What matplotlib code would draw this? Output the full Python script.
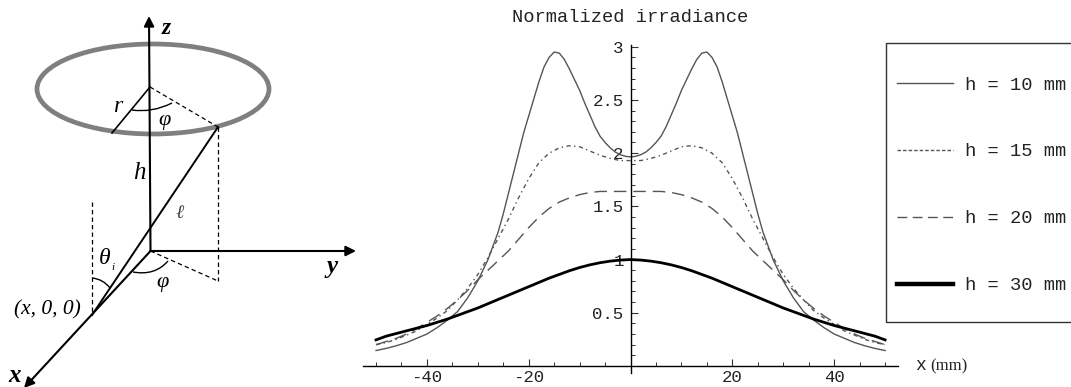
import matplotlib
matplotlib.use('Agg')
import matplotlib.pyplot as plt
from matplotlib.lines import Line2D
from matplotlib.patches import Ellipse, FancyArrowPatch, PathPatch, Rectangle
from matplotlib.path import Path

# irradiance curves
x_mm = [-50, -48, -46, -44, -42, -40, -38, -36, -34, -32, -30, -28, -26, -24, -22, -20, -18, -16, -14, -12, -10, -8, -6, -4, -2, 0,
        2, 4, 6, 8, 10, 12, 14, 16, 18, 20, 22, 24, 26, 28, 30, 32, 34, 36, 38, 40, 42, 44, 46, 48, 50]
x_h10 = [-50, -48, -46, -44, -42, -40, -38, -36, -34, -32, -30, -28, -27, -26, -25, -24, -23, -22, -21, -20, -19, -18, -17, -16, -15, -14, -13, -12,
         -11, -10, -9, -8, -7, -6, -5, -4, -3, -2, -1, 0, 1, 2, 3, 4, 5, 6, 7, 8, 9, 10, 11, 12, 13, 14, 15, 16, 17, 18, 19, 20, 21, 22, 23, 24,
         25, 26, 27, 28, 30, 32, 34, 36, 38, 40, 42, 44, 46, 48, 50]
h10 = [.145, .165, .19, .22, .26, .30, .36, .43, .51, .64, .80, 1.00, 1.13, 1.26, 1.43, 1.62, 1.81, 2.00, 2.19, 2.35, 2.51, 2.67, 2.81, 2.90, 2.95, 2.94, 2.88, 2.79,
       2.69, 2.59, 2.47, 2.36, 2.25, 2.16, 2.10, 2.05, 2.01, 1.985, 1.97, 1.965, 1.97, 1.985, 2.01, 2.05, 2.10, 2.16, 2.25, 2.36, 2.47, 2.59, 2.69, 2.79, 2.88, 2.94, 2.95, 2.90, 2.81, 2.67, 2.51, 2.35, 2.19, 2.00, 1.81, 1.62,
       1.43, 1.26, 1.13, 1.00, .80, .64, .51, .43, .36, .30, .26, .22, .19, .165, .145]
h15 = [.20, .22, .25, .29, .33, .39, .45, .52, .62, .73, .86, 1.02, 1.20, 1.38, 1.58, 1.76, 1.91, 2.00, 2.05, 2.07, 2.06, 2.02, 1.98, 1.95, 1.93, 1.93,
       1.93, 1.95, 1.98, 2.02, 2.06, 2.07, 2.05, 2.00, 1.91, 1.76, 1.58, 1.38, 1.20, 1.02, .86, .73, .62, .52, .45, .39, .33, .29, .25, .22, .20]
h20 = [.20, .23, .26, .30, .35, .41, .47, .54, .62, .71, .81, .90, .99, 1.08, 1.19, 1.30, 1.40, 1.48, 1.54, 1.58, 1.61, 1.63, 1.64, 1.64, 1.64, 1.64,
       1.64, 1.64, 1.64, 1.63, 1.61, 1.58, 1.54, 1.48, 1.40, 1.30, 1.19, 1.08, .99, .90, .81, .71, .62, .54, .47, .41, .35, .30, .26, .23, .20]
h30 = [.245, .28, .305, .33, .355, .38, .41, .44, .475, .51, .545, .585, .625, .665, .705, .745, .785, .825, .86, .895, .925, .95, .97, .985, .995, 1.0,
       .995, .985, .97, .95, .925, .895, .86, .825, .785, .745, .705, .665, .625, .585, .545, .51, .475, .44, .41, .38, .355, .33, .305, .28, .245]
series_labels = ['h = 10 mm', 'h = 15 mm', 'h = 20 mm', 'h = 30 mm']

xticks = [-40, -20, 20, 40]
xtick_labels = ['-40', '-20', '20', '40']
yticks = [0.5, 1, 1.5, 2, 2.5, 3]
ytick_labels = ['0.5', '1', '1.5', '2', '2.5', '3']

W, H = 1071, 387
MONO = 'Liberation Mono'
SERIF = 'Liberation Serif'
GREY = '#555555'

fig = plt.figure(figsize=(W / 100, H / 100), dpi=100)

# left part: the geometry sketch, in pixels of the picture
sk = fig.add_axes([0, 0, 1, 1])
sk.set_xlim(0, W)
sk.set_ylim(H, 0)
sk.axis('off')


def arrow(a, b):
    sk.add_patch(FancyArrowPatch(a, b, arrowstyle='-|>', mutation_scale=15, lw=1.5, color='black', shrinkA=0, shrinkB=0))


def line(a, b, **kw):
    kw.setdefault('color', 'black')
    kw.setdefault('lw', 1.2)
    sk.plot([a[0], b[0]], [a[1], b[1]], **kw)


def curve(a, c, b):
    sk.add_patch(PathPatch(Path([a, c, b], [Path.MOVETO, Path.CURVE3, Path.CURVE3]), fc='none', ec='black', lw=1.0))


def label(x, y, s, size=15, **kw):
    sk.text(x, y, s, family=SERIF, style='italic', size=size, ha='center', va='center', **kw)


origin = (150.5, 251)
centre = (150, 87)
ring_pt = (218, 127)
foot = (92, 315)
floor_pt = (218, 281)

sk.add_patch(Ellipse((153, 89), 232, 90, fc='none', ec='#7f7f7f', lw=3.4))
arrow(origin, (149, 16))
arrow(origin, (356, 251))
arrow(origin, (24, 388))
line(centre, (112, 133))
line(ring_pt, foot, lw=1.4)
dash = dict(ls=(0, (3.5, 2.5)), lw=0.9)
line(centre, ring_pt, **dash)
line(ring_pt, floor_pt, **dash)
line(origin, floor_pt, **dash)
line((92, 202), foot, **dash)
curve((132, 110), (152, 113), (172, 103))
curve((133, 272), (155, 276), (168, 261))
curve((92, 278), (103, 279), (110, 288))

label(166, 28, 'z', size=17, weight='bold')
label(118, 107, 'r', size=17)
label(164, 120, 'φ', size=16)
label(139, 173, 'h', size=18)
label(180, 213, 'ℓ', size=14, color='#444444')
label(105, 258, 'θ', size=17)
label(113, 267, 'i', size=8)
label(162, 282, 'φ', size=16)
label(47, 310, '(x, 0, 0)', size=15.5)
label(332, 266, 'y', size=18, weight='bold')
label(15, 376, 'x', size=18, weight='bold')

# right part: the plot
x0, x1, y0, y1 = -52.5, 52.5, -0.07, 3.02
ax = fig.add_axes([363.3 / W, 1 - 373.4 / H, 534.5 / W, 328.8 / H])
ax.patch.set_alpha(0)
ax.plot(x_h10, h10, color=GREY, lw=1.0, solid_joinstyle='round')
ax.plot(x_mm, h15, color=GREY, lw=1.0, ls=(0, (3, 2.5, 1, 2.5)))
ax.plot(x_mm, h20, color=GREY, lw=1.0, ls=(0, (9, 5)))
ax.plot(x_mm, h30, color='black', lw=2.0, solid_joinstyle='round')
ax.set_xlim(x0, x1)
ax.set_ylim(y0, y1)

for side in ['top', 'right']:
    ax.spines[side].set_visible(False)
ax.spines['left'].set_position(('data', 0))
ax.spines['bottom'].set_position(('data', 0))
ax.spines['left'].set_linewidth(1.0)
ax.spines['bottom'].set_linewidth(1.0)

ax.set_xticks(xticks, xtick_labels, family=MONO, size=12.5)
ax.set_yticks(yticks, ytick_labels, family=MONO, size=12.5)
ax.set_xticks(range(-50, 51, 5), minor=True)
ax.set_yticks([i / 10 for i in range(1, 30)], minor=True)
ax.tick_params(axis='x', which='major', direction='in', length=5, width=0.8, pad=3, color='#333333', labelcolor='#222222')
ax.tick_params(axis='x', which='minor', direction='in', length=3, width=0.7, color='#333333')
ax.tick_params(axis='y', which='major', direction='in', length=5, width=0.8, pad=5, color='#333333', labelcolor='#222222')
ax.tick_params(axis='y', which='minor', direction='in', length=3, width=0.7, color='#333333')

fig.text(630 / W, 1 - 18 / H, 'Normalized irradiance', family=MONO, size=13.5, ha='center', va='center', color='#222222')
fig.text(915 / W, 1 - 366 / H, 'x', family=MONO, size=13, ha='left', va='center', color='#222222')
fig.text(930 / W, 1 - 366 / H, '(mm)', family=SERIF, size=12, ha='left', va='center', color='#222222')

# legend box runs off the right edge of the picture
fig.add_artist(Rectangle((885.5 / W, 1 - 322 / H), 200 / W, 279 / H, transform=fig.transFigure, fc='white', ec='#333333', lw=1.0))
handles = [
    Line2D([], [], color=GREY, lw=1.0),
    Line2D([], [], color=GREY, lw=1.0, ls=(0, (2.5, 1.5))),
    Line2D([], [], color=GREY, lw=1.0, ls=(0, (7, 4))),
    Line2D([], [], color='black', lw=3.2),
]
leg = fig.legend(handles, series_labels, loc='upper left', bbox_to_anchor=(889 / W, 1 - 69 / H), frameon=False,
                 prop={'family': MONO, 'size': 13.5}, labelspacing=2.65, handlelength=3.0, handletextpad=0.65, borderpad=0.4, borderaxespad=0)
for t in leg.get_texts():
    t.set_color('#222222')

fig.savefig('out.png', dpi=100)
